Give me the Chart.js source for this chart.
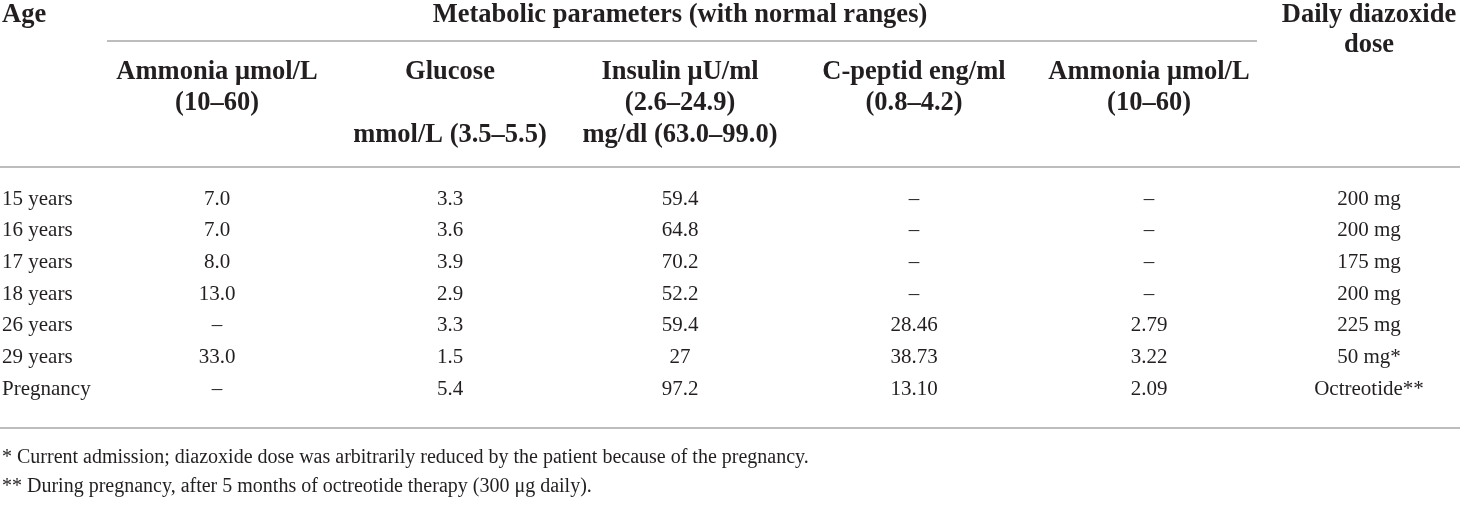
<!DOCTYPE html>
<html>
<head>
<meta charset="utf-8">
<title>Metabolic parameters</title>
<script src="https://cdn.jsdelivr.net/npm/chart.js@4/dist/chart.umd.min.js"></script>
<style>
  html, body { margin: 0; padding: 0; background: #fff; }
  #wrap { width: 1460px; height: 517px; position: relative; }
</style>
</head>
<body>
<div id="wrap"><canvas id="table"></canvas></div>
<script>
// table data
const AGES = ['15 years', '16 years', '17 years', '18 years', '26 years', '29 years', 'Pregnancy'];
const AMMONIA = ['7.0', '7.0', '8.0', '13.0', '–', '33.0', '–'];
const GLUCOSE = ['3.3', '3.6', '3.9', '2.9', '3.3', '1.5', '5.4'];
const INSULIN = ['59.4', '64.8', '70.2', '52.2', '59.4', '27', '97.2'];
const CPEPTID = ['–', '–', '–', '–', '28.46', '38.73', '13.10'];
const AMMONIA_2 = ['–', '–', '–', '–', '2.79', '3.22', '2.09'];
const DOSE = ['200 mg', '200 mg', '175 mg', '200 mg', '225 mg', '50 mg*', 'Octreotide**'];

const GROUP_TITLE = 'Metabolic parameters (with normal ranges)';
const HEADERS = [
  ['Ammonia μmol/L', '(10–60)'],
  ['Glucose', '', 'mmol/L (3.5–5.5)'],
  ['Insulin μU/ml', '(2.6–24.9)', 'mg/dl (63.0–99.0)'],
  ['C-peptid eng/ml', '(0.8–4.2)'],
  ['Ammonia μmol/L', '(10–60)']
];
const NOTES = [
  '* Current admission; diazoxide dose was arbitrarily reduced by the patient because of the pregnancy.',
  '** During pregnancy, after 5 months of octreotide therapy (300 μg daily).'
];

// layout (in page units, same as the scales)
const W = 1460, H = 517;
const COL_X = [2, 217, 450, 680, 914, 1149, 1369];
const ROW_TOP = 199, ROW_STEP = 31.67;
const HEAD_Y = [72, 103, 135];
const INK = '#231f20';
const RULE = '#bdbdbd';
const SERIF = '"Liberation Serif", "DejaVu Serif", serif';

const columns = [AGES, AMMONIA, GLUCOSE, INSULIN, CPEPTID, AMMONIA_2, DOSE];

const datasets = columns.map((col, c) => ({
  label: 'col' + c,
  data: col.map((v, i) => ({ x: COL_X[c], y: ROW_TOP + i * ROW_STEP, text: v })),
  pointRadius: 0,
  pointHoverRadius: 0
}));

const tablePlugin = {
  id: 'tableText',
  afterDatasetsDraw(chart) {
    const { ctx, scales: { x, y } } = chart;
    const px = v => x.getPixelForValue(v);
    const py = v => y.getPixelForValue(v);

    ctx.save();
    ctx.fillStyle = INK;
    ctx.textBaseline = 'middle';

    // header
    ctx.font = 'bold 26.5px ' + SERIF;
    ctx.textAlign = 'left';
    ctx.fillText('Age', px(2), py(15));
    ctx.textAlign = 'center';
    ctx.fillText(GROUP_TITLE, px(680), py(15));
    ctx.fillText('Daily diazoxide', px(COL_X[6]), py(15));
    ctx.fillText('dose', px(COL_X[6]), py(45));
    HEADERS.forEach((lines, c) => {
      lines.forEach((t, l) => ctx.fillText(t, px(COL_X[c + 1]), py(HEAD_Y[l])));
    });

    // body cells
    ctx.font = '21px ' + SERIF;
    chart.data.datasets.forEach((ds, c) => {
      ctx.textAlign = c === 0 ? 'left' : 'center';
      chart.getDatasetMeta(c).data.forEach((pt, i) => {
        ctx.fillText(ds.data[i].text, pt.x, pt.y);
      });
    });

    // rules
    ctx.strokeStyle = RULE;
    ctx.lineWidth = 2;
    [[107, 1257, 41], [0, W, 167], [0, W, 428]].forEach(([a, b, yy]) => {
      ctx.beginPath();
      ctx.moveTo(px(a), py(yy));
      ctx.lineTo(px(b), py(yy));
      ctx.stroke();
    });

    // footnotes
    ctx.font = '20px ' + SERIF;
    ctx.textAlign = 'left';
    NOTES.forEach((t, i) => ctx.fillText(t, px(2), py(458 + i * 29)));
    ctx.restore();
  }
};

new Chart(document.getElementById('table'), {
  type: 'scatter',
  data: { datasets },
  options: {
    responsive: true,
    maintainAspectRatio: false,
    animation: false,
    layout: { padding: 0 },
    plugins: { legend: { display: false }, tooltip: { enabled: false } },
    scales: {
      x: { type: 'linear', min: 0, max: W, display: false },
      y: { type: 'linear', min: 0, max: H, reverse: true, display: false }
    }
  },
  plugins: [tablePlugin]
});
</script>
</body>
</html>
